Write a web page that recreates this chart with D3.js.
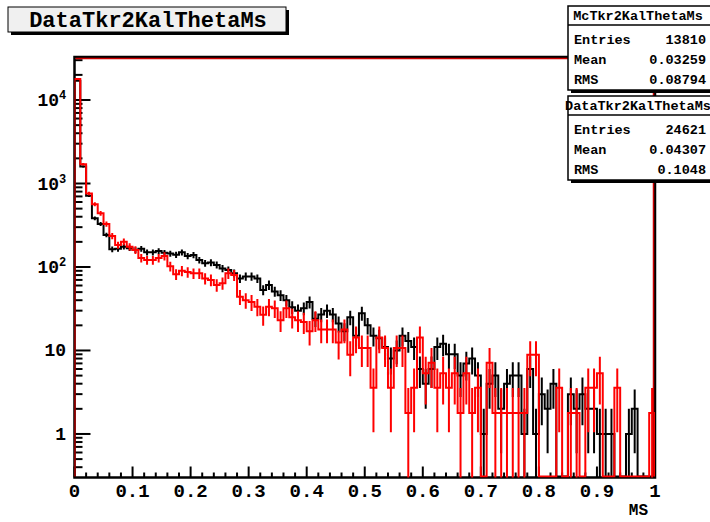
<!DOCTYPE html>
<html><head><meta charset="utf-8">
<script src="https://cdn.jsdelivr.net/npm/d3@7"></script>
<style>
body{margin:0;background:#fff}
svg{display:block}
text{font-family:"Liberation Mono","DejaVu Sans Mono",monospace;font-weight:bold;fill:#000}
</style>
</head><body>
<svg id="c" width="710" height="522"></svg>
<script>
// ---------------- data ----------------
const histTitle = "DataTkr2KalThetaMs";
const xAxisTitle = "MS";
const xMin = 0, xMax = 1, nBins = 100;
const xTickValues = [0,0.1,0.2,0.3,0.4,0.5,0.6,0.7,0.8,0.9,1];
const xTickLabels = ["0","0.1","0.2","0.3","0.4","0.5","0.6","0.7","0.8","0.9","1"];
const yTickValues = [1,10,100,1000,10000];
const yTickBase = ["1","10","10","10","10"];
const yTickExp  = ["","","2","3","4"];
const yMin = 0.301, yMax = 32750;

// black histogram (Mc)
const mcCounts = [17000,1600,715,383,327,242,163,165,175,168,
  160,165,150,150,155,148,145,140,150,135,
  139,121,111,113,106,96,92,84,73,77,
  77,73,53,61,51,46,40,33,30,32,
  38,24,27,30,27,21,17,25,15,28,
  20,15,14,11,8,10,15,13,11,6,
  4,6,11,12,9,9,5,7,8,5,
  1,4,5,2,4,5,5,1,6,1,
  3,2,4,0,0,3,2,3,2,2,
  1,1,1,0,0,1,2,0,0,0];
// red histogram (Data, scaled)
const dataScale = 1.783;
const dataCounts = [17800,1700,760,565,440,327,235,183,201,175,
  160,128,121,121,128,135,102,82,90,87,
  84,84,73,70,61,64,84,80,44,40,
  38,33.5,26.7,33.5,32,23,32,25,23,22,
  17,23,17.8,17.8,17.8,12.5,17.8,8.9,14.3,10.7,
  10.7,3.57,14.3,10.7,3.57,10.7,10.7,1.78,3.57,14.3,
  5.35,7.13,3.57,5.35,3.57,5.35,1.78,5.35,1.78,3.57,
  0,7.13,1.78,1.78,1.78,1.78,1.78,1.78,8.9,8.9,
  0,0,0,3.57,0,1.78,1.78,0,3.57,3.57,
  5.35,0,0,3.57,0,0,0,0,0,1.78];

const statNames = ["McTkr2KalThetaMs","DataTkr2KalThetaMs"];
const statLabels = ["Entries","Mean","RMS"];
const statValuesMc = ["13810","0.03259","0.08794"];
const statValuesData = ["24621","0.04307","0.1048"];

// ---------------- drawing ----------------
const svg = d3.select("#c");
const fx0 = 74.5, fx1 = 655, fy0 = 57, fy1 = 477.5;
const x = d3.scaleLinear().domain([xMin,xMax]).range([fx0,fx1]);
const y = d3.scaleLog().domain([yMin,yMax]).range([fy1,fy0]);
const bw = (xMax-xMin)/nBins;

svg.append("defs").append("clipPath").attr("id","fr")
  .append("rect").attr("x",fx0).attr("y",fy0).attr("width",fx1-fx0).attr("height",fy1-fy0);

// frame
svg.append("rect").attr("x",fx0).attr("y",fy0).attr("width",fx1-fx0).attr("height",fy1-fy0)
  .attr("fill","none").attr("stroke","#000").attr("stroke-width",2.5);

// x ticks
const g = svg.append("g");
xTickValues.forEach((v,i)=>{
  g.append("line").attr("x1",x(v)).attr("x2",x(v)).attr("y1",fy1).attr("y2",fy1-11)
    .attr("stroke","#000").attr("stroke-width",2);
  g.append("text").attr("x",x(v)).attr("y",497).attr("text-anchor","middle")
    .attr("font-size",19).text(xTickLabels[i]);
});
d3.range(0,1.0001,0.02).forEach(v=>{
  if (Math.abs(v*10-Math.round(v*10))<1e-6) return;
  g.append("line").attr("x1",x(v)).attr("x2",x(v)).attr("y1",fy1).attr("y2",fy1-5)
    .attr("stroke","#000").attr("stroke-width",2);
});
svg.append("text").attr("x",648).attr("y",515).attr("text-anchor","end")
  .attr("font-size",16).text(xAxisTitle);

// y ticks
yTickValues.forEach((v,i)=>{
  g.append("line").attr("x1",fx0).attr("x2",fx0+16).attr("y1",y(v)).attr("y2",y(v))
    .attr("stroke","#000").attr("stroke-width",2);
  g.append("text").attr("x",yTickExp[i]?59:66).attr("y",y(v)+6)
    .attr("text-anchor","end").attr("font-size",18).text(yTickBase[i]);
  if (yTickExp[i]) {
    g.append("text").attr("x",59).attr("y",y(v)-1).attr("font-size",12).text(yTickExp[i]);
  }
});
for (let d=-1; d<=4; d++) {
  for (let m=2; m<=9; m++) {
    const v = m*Math.pow(10,d);
    if (v<yMin || v>yMax) continue;
    g.append("line").attr("x1",fx0).attr("x2",fx0+8).attr("y1",y(v)).attr("y2",y(v))
      .attr("stroke","#000").attr("stroke-width",2);
  }
}

// histograms
const hg = svg.append("g").attr("clip-path","url(#fr)");
function yv(v){ return v>0 ? y(v) : fy1-1; }
function stepPts(counts){
  const pts=[[x(xMin), fy1-1]];
  counts.forEach((v,i)=>{
    const a=x(xMin+i*bw), b=x(xMin+(i+1)*bw);
    pts.push([a,yv(v)],[b,yv(v)]);
  });
  pts.push([x(xMax), fy1-1]);
  return pts;
}
function drawHist(counts, scale, color){
  hg.append("path").attr("d",d3.line()(stepPts(counts)))
    .attr("fill","none").attr("stroke",color).attr("stroke-width",2);
  counts.forEach((v,i)=>{
    if (v<=0) return;
    const err = Math.sqrt(v*scale);
    const lo = v-err, hi = v+err;
    const cx = x(xMin+(i+0.5)*bw);
    hg.append("line").attr("x1",cx).attr("x2",cx)
      .attr("y1", lo>0 ? y(lo) : fy1+5).attr("y2", y(hi))
      .attr("stroke",color).attr("stroke-width",2);
  });
}
drawHist(mcCounts, 1, "#000");
drawHist(dataCounts, dataScale, "#ff0000");

// red inner lines along top and right of the frame
svg.append("path").attr("d",`M${fx0+1},${fy0+1.5}H${fx1-1.5}V${fy1-1}`)
  .attr("fill","none").attr("stroke","#cc0000").attr("stroke-width",1.5);

// title box
const tb = svg.append("g");
tb.append("rect").attr("x",11).attr("y",10).attr("width",278).attr("height",25).attr("fill","#000");
tb.append("rect").attr("x",8).attr("y",7).attr("width",278).attr("height",25)
  .attr("fill","#f0f0f0").attr("stroke","#000").attr("stroke-width",1);
tb.append("text").attr("x",148).attr("y",27).attr("text-anchor","middle")
  .attr("font-size",22).text(histTitle);

// stats boxes
function statBox(top, name, vals){
  const h = 84, left = 568, w = 150;
  const sg = svg.append("g");
  sg.append("rect").attr("x",left+3).attr("y",top+3).attr("width",w).attr("height",h).attr("fill","#000");
  sg.append("rect").attr("x",left).attr("y",top).attr("width",w).attr("height",h)
    .attr("fill","#fff").attr("stroke","#000").attr("stroke-width",1.5);
  sg.append("line").attr("x1",left).attr("x2",left+w).attr("y1",top+19).attr("y2",top+19)
    .attr("stroke","#000").attr("stroke-width",1.5);
  sg.append("text").attr("x",638).attr("y",top+14).attr("text-anchor","middle")
    .attr("font-size",13.5).text(name);
  vals.forEach((v,i)=>{
    const ty = top + 38 + i*20;
    sg.append("text").attr("x",574).attr("y",ty).attr("font-size",13.5).text(statLabels[i]);
    sg.append("text").attr("x",706).attr("y",ty).attr("text-anchor","end").attr("font-size",13.5).text(v);
  });
}
statBox(6, statNames[0], statValuesMc);
statBox(96, statNames[1], statValuesData);
</script>
</body></html>
